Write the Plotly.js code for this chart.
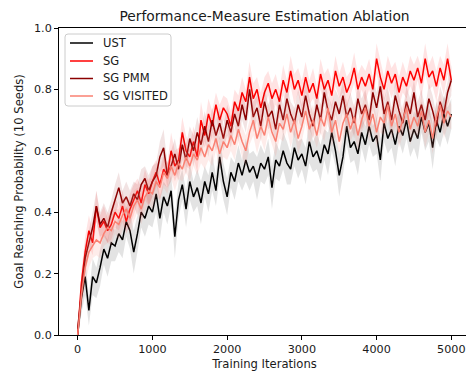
<!DOCTYPE html>
<html>
<head>
<meta charset="utf-8">
<script src="https://cdn.plot.ly/plotly-3.0.1.min.js"></script>
<style>
html,body{margin:0;padding:0;overflow:hidden;background:#fff;width:466px;height:371px;}
#chart{width:480px;height:371px;}
</style>
</head>
<body>
<div id="chart"></div>
<script>
// Training iterations: samples every 50 iterations from 0 to 5000
const STEP = 50;
const N_POINTS = 101;

const SERIES_NAMES = ["UST", "SG", "SG PMM", "SG VISITED"];

const UST = [
0.00,0.12,0.19,0.08,0.19,0.17,0.22,0.28,0.25,0.30,
0.29,0.33,0.31,0.37,0.34,0.27,0.33,0.40,0.38,0.42,
0.40,0.46,0.38,0.45,0.42,0.47,0.32,0.44,0.49,0.41,
0.50,0.45,0.48,0.43,0.50,0.46,0.53,0.47,0.58,0.50,
0.45,0.53,0.50,0.56,0.52,0.57,0.53,0.55,0.51,0.56,
0.54,0.58,0.48,0.57,0.55,0.60,0.56,0.54,0.61,0.57,
0.59,0.55,0.63,0.58,0.60,0.56,0.62,0.59,0.66,0.60,
0.52,0.58,0.68,0.61,0.63,0.59,0.66,0.62,0.68,0.63,
0.65,0.57,0.69,0.64,0.67,0.62,0.68,0.65,0.70,0.63,
0.67,0.64,0.71,0.66,0.69,0.61,0.70,0.66,0.72,0.68,
0.72];

const SG = [
0.00,0.17,0.27,0.34,0.30,0.42,0.35,0.37,0.34,0.36,
0.40,0.38,0.42,0.37,0.41,0.44,0.47,0.43,0.49,0.46,
0.50,0.53,0.49,0.54,0.52,0.60,0.55,0.57,0.66,0.60,
0.58,0.63,0.58,0.70,0.65,0.72,0.68,0.75,0.70,0.74,
0.72,0.68,0.76,0.73,0.79,0.76,0.84,0.77,0.80,0.74,
0.79,0.82,0.77,0.80,0.76,0.83,0.79,0.86,0.80,0.83,
0.78,0.84,0.79,0.82,0.77,0.85,0.80,0.83,0.78,0.86,
0.81,0.84,0.79,0.82,0.87,0.80,0.84,0.81,0.85,0.80,
0.90,0.84,0.80,0.86,0.82,0.85,0.79,0.84,0.81,0.86,
0.83,0.87,0.82,0.90,0.84,0.86,0.81,0.87,0.83,0.90,
0.83];

const SG_PMM = [
0.02,0.14,0.25,0.30,0.35,0.42,0.36,0.38,0.35,0.40,
0.44,0.48,0.43,0.45,0.42,0.46,0.44,0.49,0.51,0.47,
0.50,0.52,0.58,0.61,0.52,0.55,0.59,0.54,0.62,0.57,
0.64,0.60,0.66,0.62,0.68,0.63,0.70,0.65,0.69,0.64,
0.70,0.66,0.72,0.68,0.75,0.70,0.80,0.71,0.74,0.68,
0.76,0.71,0.73,0.67,0.75,0.70,0.77,0.72,0.69,0.75,
0.71,0.78,0.72,0.68,0.75,0.70,0.79,0.73,0.70,0.76,
0.72,0.78,0.71,0.74,0.69,0.77,0.72,0.75,0.70,0.79,
0.74,0.81,0.72,0.76,0.70,0.78,0.73,0.69,0.76,0.72,
0.79,0.71,0.75,0.70,0.77,0.73,0.68,0.76,0.72,0.79,
0.83];

const SG_VISITED = [
0.00,0.13,0.22,0.27,0.29,0.31,0.30,0.33,0.35,0.34,
0.37,0.36,0.39,0.41,0.38,0.42,0.44,0.41,0.45,0.47,
0.46,0.50,0.48,0.53,0.51,0.55,0.52,0.56,0.54,0.58,
0.55,0.59,0.57,0.61,0.58,0.62,0.60,0.64,0.59,0.63,
0.61,0.65,0.62,0.67,0.63,0.60,0.66,0.70,0.64,0.68,
0.65,0.71,0.66,0.63,0.69,0.67,0.72,0.66,0.70,0.64,
0.68,0.73,0.67,0.70,0.65,0.71,0.68,0.74,0.66,0.70,
0.63,0.69,0.72,0.67,0.71,0.65,0.70,0.74,0.68,0.72,
0.66,0.71,0.69,0.75,0.68,0.72,0.66,0.70,0.74,0.67,
0.71,0.68,0.73,0.66,0.70,0.64,0.71,0.75,0.69,0.73,
0.71];

// spread (half-width of shaded band) for each series
const UST_SPREAD = [
0.01,0.05,0.06,0.05,0.06,0.05,0.06,0.05,0.06,0.06,
0.05,0.06,0.06,0.05,0.06,0.07,0.06,0.05,0.06,0.06,
0.05,0.06,0.07,0.05,0.06,0.05,0.07,0.06,0.05,0.06,
0.06,0.05,0.06,0.07,0.05,0.06,0.06,0.05,0.07,0.06,
0.06,0.05,0.06,0.06,0.05,0.07,0.06,0.05,0.07,0.06,
0.05,0.06,0.07,0.06,0.05,0.06,0.07,0.05,0.06,0.06,
0.05,0.06,0.07,0.05,0.06,0.06,0.05,0.07,0.06,0.05,
0.07,0.06,0.06,0.05,0.06,0.07,0.05,0.06,0.06,0.05,
0.06,0.07,0.06,0.05,0.06,0.07,0.05,0.06,0.06,0.05,
0.06,0.07,0.05,0.06,0.06,0.07,0.06,0.05,0.06,0.06,
0.05];
const SG_SPREAD = [
0.01,0.04,0.05,0.05,0.04,0.05,0.04,0.05,0.04,0.05,
0.05,0.04,0.05,0.04,0.05,0.05,0.04,0.05,0.05,0.04,
0.05,0.04,0.05,0.05,0.04,0.06,0.05,0.04,0.05,0.05,
0.04,0.05,0.05,0.06,0.04,0.05,0.05,0.04,0.05,0.04,
0.05,0.05,0.04,0.05,0.05,0.04,0.05,0.05,0.04,0.05,
0.05,0.04,0.05,0.05,0.04,0.05,0.04,0.05,0.05,0.04,
0.05,0.05,0.04,0.05,0.04,0.05,0.05,0.04,0.05,0.05,
0.04,0.05,0.05,0.04,0.05,0.05,0.04,0.05,0.05,0.04,
0.05,0.05,0.04,0.05,0.05,0.04,0.05,0.05,0.04,0.05,
0.05,0.04,0.05,0.05,0.04,0.05,0.05,0.04,0.05,0.05,
0.04];
const SG_PMM_SPREAD = [
0.01,0.05,0.05,0.04,0.05,0.05,0.04,0.05,0.05,0.04,
0.05,0.05,0.04,0.05,0.05,0.04,0.05,0.05,0.04,0.05,
0.05,0.04,0.05,0.06,0.04,0.05,0.05,0.04,0.05,0.05,
0.04,0.05,0.05,0.04,0.05,0.05,0.04,0.05,0.05,0.04,
0.05,0.05,0.04,0.05,0.05,0.04,0.06,0.05,0.04,0.05,
0.05,0.04,0.05,0.05,0.04,0.05,0.05,0.04,0.05,0.05,
0.04,0.05,0.05,0.04,0.05,0.05,0.04,0.05,0.05,0.04,
0.05,0.05,0.04,0.05,0.05,0.04,0.05,0.05,0.04,0.05,
0.05,0.04,0.05,0.05,0.04,0.05,0.05,0.04,0.05,0.05,
0.04,0.05,0.05,0.04,0.05,0.05,0.04,0.05,0.05,0.04,
0.05];
const SG_VISITED_SPREAD = [
0.01,0.05,0.05,0.05,0.04,0.05,0.05,0.04,0.05,0.05,
0.04,0.05,0.05,0.04,0.05,0.05,0.04,0.05,0.05,0.04,
0.05,0.05,0.04,0.05,0.05,0.04,0.05,0.05,0.04,0.05,
0.05,0.04,0.05,0.05,0.04,0.05,0.05,0.04,0.05,0.05,
0.04,0.05,0.05,0.04,0.05,0.05,0.04,0.05,0.05,0.04,
0.05,0.05,0.04,0.05,0.05,0.04,0.05,0.05,0.04,0.05,
0.05,0.04,0.05,0.05,0.04,0.05,0.05,0.04,0.05,0.05,
0.04,0.05,0.05,0.04,0.05,0.05,0.04,0.05,0.05,0.04,
0.05,0.05,0.04,0.05,0.05,0.04,0.05,0.05,0.04,0.05,
0.05,0.04,0.05,0.05,0.04,0.05,0.05,0.04,0.05,0.05,
0.04];

const LINE_COLORS = ["#000000", "#ff0000", "#8b0000", "#fa8072"];
const BAND_COLORS = ["rgba(0,0,0,0.11)", "rgba(255,0,0,0.11)", "rgba(139,0,0,0.11)", "rgba(250,128,114,0.15)"];

const iterations = [];
for (let i = 0; i < N_POINTS; i++) iterations.push(i * STEP);

const means = [UST, SG, SG_PMM, SG_VISITED];
const spreads = [UST_SPREAD, SG_SPREAD, SG_PMM_SPREAD, SG_VISITED_SPREAD];

const traces = [];
means.forEach((m, k) => {
  const s = spreads[k];
  const upper = m.map((v, i) => v + s[i]);
  const lower = m.map((v, i) => v - s[i]);
  traces.push({
    x: iterations.concat(iterations.slice().reverse()),
    y: upper.concat(lower.slice().reverse()),
    type: "scatter", mode: "lines", fill: "toself",
    fillcolor: BAND_COLORS[k], line: {width: 0, color: "rgba(0,0,0,0)"},
    hoverinfo: "skip", showlegend: false
  });
  traces.push({
    x: iterations, y: m, type: "scatter", mode: "lines",
    name: SERIES_NAMES[k], line: {color: LINE_COLORS[k], width: 1.5},
    showlegend: false
  });
});

// Plot-area geometry in pixels (used for the legend box drawn in paper coords)
const PLOT_L = 59, PLOT_R = 470, PLOT_T = 28, PLOT_B = 335;
const px2x = p => (p - PLOT_L) / (PLOT_R - PLOT_L);
const px2y = p => (PLOT_B - p) / (PLOT_B - PLOT_T);

const FONT = "DejaVu Sans, sans-serif";
const TXT = "#1a1a1a";

// Legend (matplotlib-style): rounded box, short line samples, labels
const LEG = {l: 65, r: 171, t: 34, b: 106, rad: 3, lineX0: 70, lineX1: 93, textX: 101, rows: [43, 61, 78.5, 96]};
const shapes = [];
const annotations = [];
{
  const x0 = px2x(LEG.l), x1 = px2x(LEG.r), y0 = px2y(LEG.b), y1 = px2y(LEG.t);
  const rx = LEG.rad / (PLOT_R - PLOT_L), ry = LEG.rad / (PLOT_B - PLOT_T);
  const path = `M ${x0 + rx} ${y1} L ${x1 - rx} ${y1} Q ${x1} ${y1} ${x1} ${y1 - ry} L ${x1} ${y0 + ry} Q ${x1} ${y0} ${x1 - rx} ${y0} L ${x0 + rx} ${y0} Q ${x0} ${y0} ${x0} ${y0 + ry} L ${x0} ${y1 - ry} Q ${x0} ${y1} ${x0 + rx} ${y1} Z`;
  shapes.push({type: "path", xref: "paper", yref: "paper", path: path,
    fillcolor: "rgba(255,255,255,0.8)", line: {color: "#cccccc", width: 1}, layer: "above"});
  SERIES_NAMES.forEach((name, k) => {
    const yy = px2y(LEG.rows[k]);
    shapes.push({type: "line", xref: "paper", yref: "paper", x0: px2x(LEG.lineX0), x1: px2x(LEG.lineX1),
      y0: yy, y1: yy, line: {color: LINE_COLORS[k], width: 1.5}, layer: "above"});
    annotations.push({xref: "paper", yref: "paper", x: px2x(LEG.textX), y: yy, xanchor: "left", yanchor: "middle",
      text: name, showarrow: false, font: {family: FONT, size: 11.5, color: TXT}});
  });
}

const layout = {
  width: 480, height: 371,
  margin: {l: PLOT_L, r: 480 - PLOT_R, t: PLOT_T, b: 371 - PLOT_B},
  paper_bgcolor: "#fff", plot_bgcolor: "#fff",
  font: {family: FONT, size: 11, color: TXT},
  title: {text: "Performance-Measure Estimation Ablation", font: {family: FONT, size: 13.8, color: TXT},
          x: 0.5, xanchor: "center", xref: "paper", y: 1 - 16/371, yanchor: "middle", yref: "container"},
  xaxis: {
    range: [-250, 5250], dtick: 1000, tick0: 0, showgrid: false, zeroline: false,
    showline: true, linecolor: "#000", linewidth: 1, mirror: true,
    ticks: "outside", ticklen: 4, tickcolor: "#000", tickwidth: 1,
    tickfont: {family: FONT, size: 11.2, color: TXT},
    title: {text: "Training Iterations", font: {family: FONT, size: 11.6, color: TXT}, standoff: 4}
  },
  yaxis: {
    range: [0, 1], dtick: 0.2, tick0: 0, tickformat: ".1f", showgrid: false, zeroline: false,
    showline: true, linecolor: "#000", linewidth: 1, mirror: true,
    ticks: "outside", ticklen: 4, tickcolor: "#000", tickwidth: 1,
    tickfont: {family: FONT, size: 11.2, color: TXT},
    title: {text: "Goal Reaching Probability (10 Seeds)", font: {family: FONT, size: 11.6, color: TXT}, standoff: 7}
  },
  shapes: shapes,
  annotations: annotations,
  showlegend: false
};

Plotly.newPlot("chart", traces, layout, {staticPlot: true, displayModeBar: false});
</script>
</body>
</html>
